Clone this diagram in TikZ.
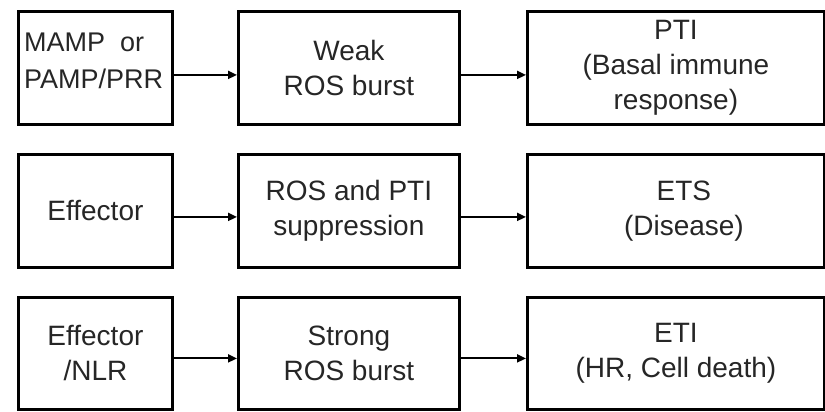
\documentclass[tikz,border=0pt]{standalone}
\usepackage{fontspec}
\setmainfont{Liberation Sans}
\usetikzlibrary{arrows.meta, positioning}

\tikzset{
    box/.style={draw, line width=2.8pt, inner sep=0pt, align=center, anchor=north west,
        minimum height=113pt, text=black!85, font=\fontsize{28}{35}\selectfont},
    srcbox/.style={box, minimum width=154pt},
    midbox/.style={box, minimum width=221pt},
    outbox/.style={box, minimum width=297pt},
    link/.style={-{Triangle[length=9pt, width=8pt]}, line width=2pt}
}

\begin{document}
\begin{tikzpicture}[x=1pt, y=-1pt]
    \useasboundingbox (0,0) rectangle (825,412);

    % row 1
    \node[srcbox] (mamp) at (17,10) {};
    \node[anchor=west, align=left, inner sep=0pt, text=black!85, font=\fontsize{27}{37}\selectfont] (mamptext) at (24,61) {MAMP~ or\\PAMP/PRR};
    \node[midbox] (weak) at (237,10) {Weak\\ROS burst};
    \node[outbox] (pti) at (526,10) {PTI\\(Basal immune\\response)};

    % row 2
    \node[srcbox] (eff) at (17,153) {Effector};
    \node[midbox] (supp) at (237,153) {ROS and PTI\\suppression};
    \node[outbox] (ets) at (526,153) {\hspace{16pt}ETS\\\hspace{16pt}(Disease)};

    % row 3
    \node[srcbox, minimum height=112pt] (effnlr) at (17,296) {Effector\\/NLR};
    \node[midbox, minimum height=112pt] (strong) at (237,296) {Strong\\ROS burst};
    \node[outbox, minimum height=112pt] (eti) at (526,296) {ETI\\(HR, Cell death)};

    % arrows
    \draw[link] ([yshift=-7pt]mamp.east) -- ([yshift=-7pt]weak.west);
    \draw[link] ([yshift=-7pt]weak.east) -- ([yshift=-7pt]pti.west);
    \draw[link] ([yshift=-6pt]eff.east) -- ([yshift=-6pt]supp.west);
    \draw[link] ([yshift=-6pt]supp.east) -- ([yshift=-6pt]ets.west);
    \draw[link] ([yshift=-5pt]effnlr.east) -- ([yshift=-5pt]strong.west);
    \draw[link] ([yshift=-5pt]strong.east) -- ([yshift=-5pt]eti.west);
\end{tikzpicture}
\end{document}
